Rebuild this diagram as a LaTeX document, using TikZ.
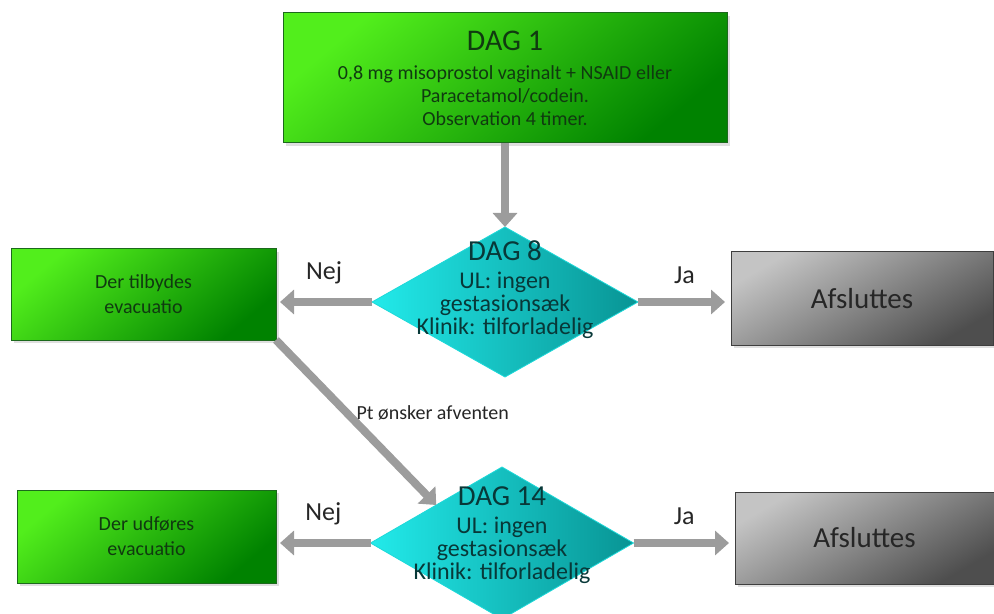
\documentclass[tikz,border=0pt]{standalone}
\usepackage{fontspec}
\setmainfont{Carlito}
\usetikzlibrary{shapes.geometric,arrows.meta,shadows}

\definecolor{grnlight}{RGB}{82,238,28}
\definecolor{grndark}{RGB}{0,130,0}
\definecolor{grnline}{RGB}{28,105,28}
\definecolor{grntext}{RGB}{16,58,16}
\definecolor{cyanlight}{RGB}{34,234,234}
\definecolor{cyandark}{RGB}{8,148,148}
\definecolor{cyantext}{RGB}{8,56,56}
\definecolor{greylight}{RGB}{196,196,196}
\definecolor{greydark}{RGB}{78,78,78}
\definecolor{arrowgrey}{RGB}{156,156,156}

\tikzset{
  greenbox/.style={draw=grnline, line width=0.5pt, top color=grnlight, bottom color=grndark,
    shading angle=40, drop shadow={opacity=0.25,shadow xshift=1.5pt,shadow yshift=-1.5pt},
    text=grntext, align=center, inner sep=0pt, outer sep=0pt},
  greybox/.style={draw=greydark!80!black, line width=0.5pt, top color=greylight, bottom color=greydark,
    shading angle=30, drop shadow={opacity=0.25,shadow xshift=1.5pt,shadow yshift=-1.5pt},
    text=black!85, inner sep=0pt, outer sep=0pt, font=\fontsize{14.5}{17}\selectfont},
  tealdiamond/.style={diamond, left color=cyanlight, right color=cyandark, draw=cyanlight!80!cyandark,
    line width=0.4pt, inner sep=0pt, outer sep=0pt},
  diamtext/.style={text=cyantext, align=center, font=\fontsize{12}{11.5}\selectfont},
  flowarrow/.style={draw=arrowgrey, line width=4pt, -{Triangle[length=7pt,width=12pt]}},
  lbl/.style={text=black!85, inner sep=0pt, font=\fontsize{13}{15}\selectfont},
  smalllbl/.style={text=black!85, inner sep=0pt, font=\fontsize{10}{12}\selectfont}
}

\begin{document}
\begin{tikzpicture}[x=0.5pt,y=-0.5pt]
\newcommand\dagfont{\fontsize{14.5}{16}\selectfont}
\useasboundingbox (0,0) rectangle (994,614);

% dag 1
\node[greenbox, minimum width=222pt, minimum height=65pt,
  font=\fontsize{10}{11.5}\selectfont] (dag1) at (505,78)
  {{\fontsize{15}{16}\selectfont DAG 1}\\[3pt]
   0,8 mg misoprostol vaginalt + NSAID eller\\
   Paracetamol/codein.\\
   Observation 4 timer.};

% dag 8
\node[tealdiamond, minimum width=133pt, minimum height=75pt] (dag8) at (505,302) {};
\node[diamtext] (dag8txt) at ([yshift=6pt]dag8.center)
  {{\dagfont DAG 8}\\[2.5pt] UL: ingen\\ gestasionsæk\\ Klinik: tilforladelig};

\node[greenbox, minimum width=132.5pt, minimum height=45.5pt,
  font=\fontsize{10}{12.5}\selectfont] (tilbyd) at (143.5,294.5) {Der tilbydes\\evacuatio};
\node[greybox, minimum width=131pt, minimum height=46.5pt] (afsl1) at (862,298.5) {Afsluttes};

% dag 14
\node[tealdiamond, minimum width=131.5pt, minimum height=76pt] (dag14) at (502,543) {};
\node[diamtext] (dag14txt) at ([yshift=4pt]dag14.center)
  {{\dagfont DAG 14}\\[2.5pt] UL: ingen\\ gestasionsæk\\ Klinik: tilforladelig};

\node[greenbox, minimum width=129.5pt, minimum height=46.5pt,
  font=\fontsize{10}{12.5}\selectfont] (udfoer) at (146.5,536.5) {Der udføres\\evacuatio};
\node[greybox, minimum width=129.5pt, minimum height=46pt] (afsl2) at (864.5,538) {Afsluttes};

% pile
\draw[flowarrow] (dag1) -- (dag8);
\foreach \d/\l/\r in {dag8/tilbyd/afsl1, dag14/udfoer/afsl2}{
\draw[flowarrow, shorten >=2pt] (\d.west) -- (\d.west -| \l.east)
  node[lbl, midway, above=7pt] (nej-\d) {Nej};
\draw[flowarrow, shorten >=3pt] (\d.east) -- (\d.east -| \r.west)
  node[lbl, midway, above=7pt] (ja-\d) {Ja};
}
\draw[flowarrow] (tilbyd.south east) -- (dag14.north west)
  node[smalllbl, pos=0.44, right=3pt] (afvent) {Pt ønsker afventen};

\end{tikzpicture}
\end{document}
